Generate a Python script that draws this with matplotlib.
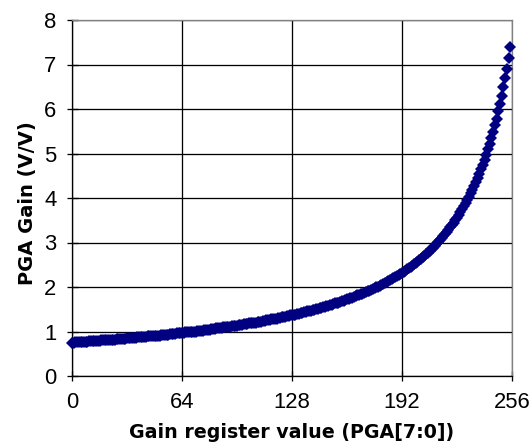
import matplotlib
matplotlib.use("Agg")
import matplotlib.pyplot as plt

register_values = list(range(256))
pga_gain = [
    0.75, 0.75, 0.76, 0.76, 0.76, 0.76, 0.77, 0.77, 0.77, 0.77,
    0.78, 0.78, 0.78, 0.79, 0.79, 0.79, 0.79, 0.80, 0.80, 0.80,
    0.81, 0.81, 0.81, 0.82, 0.82, 0.82, 0.83, 0.83, 0.83, 0.84,
    0.84, 0.84, 0.85, 0.85, 0.85, 0.86, 0.86, 0.86, 0.87, 0.87,
    0.87, 0.88, 0.88, 0.88, 0.89, 0.89, 0.90, 0.90, 0.90, 0.91,
    0.91, 0.91, 0.92, 0.92, 0.93, 0.93, 0.93, 0.94, 0.94, 0.95,
    0.95, 0.96, 0.96, 0.96, 0.97, 0.97, 0.98, 0.98, 0.99, 0.99,
    1.00, 1.00, 1.00, 1.01, 1.01, 1.02, 1.02, 1.03, 1.03, 1.04,
    1.04, 1.05, 1.05, 1.06, 1.07, 1.07, 1.08, 1.08, 1.09, 1.09,
    1.10, 1.10, 1.11, 1.12, 1.12, 1.13, 1.13, 1.14, 1.15, 1.15,
    1.16, 1.16, 1.17, 1.18, 1.18, 1.19, 1.20, 1.20, 1.21, 1.22,
    1.22, 1.23, 1.24, 1.25, 1.25, 1.26, 1.27, 1.28, 1.28, 1.29,
    1.30, 1.31, 1.32, 1.32, 1.33, 1.34, 1.35, 1.36, 1.37, 1.38,
    1.38, 1.39, 1.40, 1.41, 1.42, 1.43, 1.44, 1.45, 1.46, 1.47,
    1.48, 1.49, 1.50, 1.51, 1.52, 1.53, 1.54, 1.56, 1.57, 1.58,
    1.59, 1.60, 1.61, 1.63, 1.64, 1.65, 1.67, 1.68, 1.69, 1.71,
    1.72, 1.73, 1.75, 1.76, 1.78, 1.79, 1.81, 1.82, 1.84, 1.85,
    1.87, 1.89, 1.90, 1.92, 1.94, 1.96, 1.97, 1.99, 2.01, 2.03,
    2.05, 2.07, 2.09, 2.11, 2.13, 2.15, 2.18, 2.20, 2.22, 2.25,
    2.27, 2.29, 2.32, 2.34, 2.37, 2.40, 2.42, 2.45, 2.48, 2.51,
    2.54, 2.57, 2.60, 2.63, 2.67, 2.70, 2.74, 2.77, 2.81, 2.85,
    2.88, 2.92, 2.96, 3.01, 3.05, 3.09, 3.14, 3.19, 3.23, 3.28,
    3.34, 3.39, 3.44, 3.50, 3.56, 3.62, 3.68, 3.75, 3.81, 3.88,
    3.96, 4.03, 4.11, 4.19, 4.27, 4.36, 4.45, 4.55, 4.65, 4.75,
    4.86, 4.97, 5.09, 5.22, 5.35, 5.49, 5.63, 5.78, 5.95, 6.12,
    6.30, 6.49, 6.69, 6.91, 7.14, 7.39,
]
x_ticks = [0, 64, 128, 192, 256]
y_ticks = [0, 1, 2, 3, 4, 5, 6, 7, 8]
x_label = "Gain register value (PGA[7:0])"
y_label = "PGA Gain (V/V)"

plt.rcParams["font.family"] = ["Liberation Sans", "DejaVu Sans"]

W, H = 531, 442
fig = plt.figure(figsize=(W / 72, H / 72), dpi=72)
L, R, T, B = 72, 512, 20, 376
ax = fig.add_axes([L / W, 1 - B / H, (R - L) / W, (B - T) / H])

ax.plot(register_values, pga_gain, linestyle="none", marker="D",
        markersize=9, color="#000080", markeredgewidth=0, zorder=3,
        clip_on=False)

ax.set_xlim(0, 256)
ax.set_ylim(0, 8)
ax.set_xticks(x_ticks)
ax.set_yticks(y_ticks)
ax.set_xticklabels([str(v) for v in x_ticks])
ax.set_yticklabels([str(v) for v in y_ticks])

ax.grid(True, color="black", linewidth=1.3)
ax.set_axisbelow(True)

for side in ("left", "bottom"):
    ax.spines[side].set_color("black")
    ax.spines[side].set_linewidth(1.3)
for side in ("top", "right"):
    ax.spines[side].set_color("#808080")
    ax.spines[side].set_linewidth(1.3)
    ax.spines[side].set_zorder(2.5)

ax.tick_params(axis="both", direction="inout", length=11, width=1.3,
               labelsize=22, colors="black")
ax.tick_params(axis="x", length=10, pad=11)
ax.tick_params(axis="y", pad=10)

ax.set_xlabel(x_label, fontsize=19, fontweight="bold",
              family=["DejaVu Sans"])
ax.xaxis.label.set_va("baseline")
ax.xaxis.set_label_coords(0.5, (B - 437.5) / (B - T))

ax.set_ylabel(y_label, fontsize=19.5, fontweight="bold",
              family=["DejaVu Sans"])
ax.yaxis.label.set_va("baseline")
ax.yaxis.set_label_coords((33 - L) / (R - L), (B - 203) / (B - T))

fig.savefig("out.png", dpi=72)
